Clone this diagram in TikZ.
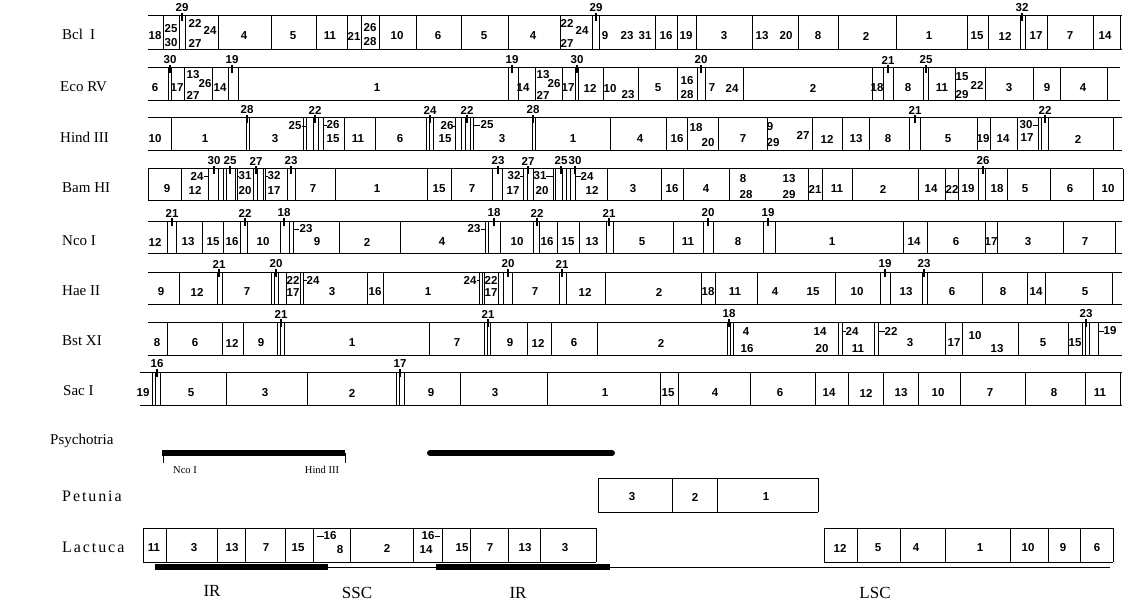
\documentclass[tikz,border=0pt]{standalone}
\usepackage{fontspec}
\setmainfont{Liberation Serif}
\newfontfamily\numfont{Liberation Sans}
\newcounter{nn}
\tikzset{
 num/.style={font=\numfont\bfseries\fontsize{11.5}{12}\selectfont, inner sep=0pt},
 rowname/.style={font=\fontsize{15}{16}\selectfont, anchor=west, inner sep=0pt},
 widename/.style={font=\fontsize{16}{17}\selectfont\addfontfeature{LetterSpace=12}, anchor=west, inner sep=0pt},
 smalltxt/.style={font=\fontsize{10.5}{11}\selectfont, inner sep=0pt},
 regtxt/.style={font=\fontsize{17}{18}\selectfont, inner sep=0pt},
 frame/.style={line width=1pt},
 vline/.style={line width=0.9pt},
 tickline/.style={line width=1.4pt},
 thickbar/.style={line width=6pt},
}
\newcommand\lb[3]{\stepcounter{nn}\node[num] (n\arabic{nn}) at (#1,#2) {#3};}
\newcommand\mids[2]{\foreach \xa/\la in {#2}{\lb{\xa}{#1}{\la}}}
\newcommand\sts[1]{\foreach \xa/\ya/\la in {#1}{\lb{\xa}{\ya}{\la}}}
\newcommand\vls[3]{\foreach \xa in {#3}{\draw[vline] (\xa,#1) -- (\xa,#2);}}
\newcommand\frm[4]{\draw[frame] (#3,#1) -- (#4,#1); \draw[frame] (#3,#2) -- (#4,#2);}
\newcommand\tks[2]{\foreach \xa/\la in {#2}{\draw[tickline] (\xa,#1-3) -- (\xa,#1+5); \lb{\xa}{#1-8}{\la}}}
\newcommand\ptrs[1]{\foreach \xa/\xb/\ya in {#1}{\draw[vline] (\xa,\ya) -- (\xb,\ya);}}
\begin{document}
\begin{tikzpicture}[x=1pt,y=-1pt]
\useasboundingbox (0,0) rectangle (1132,604);
% row names
\node[rowname] (rn1) at (62,34) {Bcl\hspace{7pt}I};
\node[rowname] (rn2) at (60,87) {Eco RV};
\node[rowname] (rn3) at (60,137) {Hind III};
\node[rowname] (rn4) at (62,188) {Bam HI};
\node[rowname] (rn5) at (62,241) {Nco I};
\node[rowname] (rn6) at (62,291) {Hae II};
\node[rowname] (rn7) at (62,341) {Bst XI};
\node[rowname] (rn8) at (63,391) {Sac I};
% Row 1 Bcl I
\frm{16}{50}{148}{1122}
\vls{16}{50}{163,179,185,218,271,316,347,361,379,416,461,508,560,592,599,655,677,696,752,798,838,896,967,988,1020,1025,1047,1093,1120}
\tks{16}{182/29,596/29,1022/32}
\mids{36}{155/18,244/4,293/5,330/11,354/21,397/10,438/6,484/5,533/4,605/9,627/23,645/31,666/16,686/19,724/3,762/13,786/20,818/8,866/2,929/1,977/15,1005/12,1036/17,1070/7,1105/14}
\sts{171/29/25,171/43/30,195/23/22,210/30/24,195/43/27,370/28/26,370/42/28,567/23/22,582/30/24,567/43/27}
% Row 2 Eco RV
\frm{68}{101}{148}{1120}
\vls{68}{101}{168,171,184,212,228,238,508,518,535,562,575,578,603,638,677,697,705,743,872,883,893,923,928,955,985,1033,1060,1107}
\tks{68}{170/30,232/19,512/19,577/30,701/20,888/21,926/25}
\mids{88}{155/6,177/17,220/14,377/1,523/14,568/17,590/12,658/5,712/7,732/24,813/2,877/18,908/8,942/11,1009/3,1047/9,1083/4}
\sts{193/75/13,205/84/26,193/95/27,543/75/13,554/84/26,543/95/27,610/89/10,628/95/23,687/81/16,687/95/28,962/77/15,977/85/22,962/95/29}
% Row 3 Hind III
\frm{118}{151}{148}{1122}
\vls{118}{151}{171,246,249,303,306,313,318,323,344,375,426,429,433,455,461,465,470,473,532,535,610,666,687,718,767,812,842,869,909,920,977,990,1017,1038,1041,1048,1113}
\tks{118}{247/28,315/22,430/24,467/22,533/28,915/21,1045/22}
\mids{139}{155/10,205/1,275/3,358/11,400/6,502/3,573/1,640/4,677/16,743/7,827/12,856/13,888/8,948/5,983/19,1003/14,1078/2}
\sts{295/126/25,333/125/26,333/139/15,447/126/26,445/139/15,487/125/25,696/128/18,708/143/20,770/127/9,773/143/29,803/135/27,1026/125/30,1027/138/17}
\ptrs{302/306/126,323/327/125,453/456/126,474/480/125,1033/1038/125}
% Row 4 Bam HI
\frm{169}{201}{148}{1123}
\vls{169}{201}{148,181,208,218,223,226,235,237,253,257,263,265,287,295,335,427,451,492,502,523,527,533,553,555,562,566,570,575,607,661,683,729,808,822,852,918,945,958,978,985,1007,1050,1093,1123}
\tks{169}{214/30,230/25,256/27,291/23,498/23,528/27,561/25,575/30,983/26}
\mids{189}{167/9,313/7,377/1,439/15,472/7,633/3,672/16,706/4,815/21,837/11,883/2,931/14,952/22,968/19,997/18,1025/5,1070/6,1108/10}
\sts{197/176/24,195/190/12,245/176/31,245/191/20,274/176/32,274/191/17,514/176/32,513/191/17,540/176/31,542/191/20,587/176/24,592/190/12,743/179/8,746/195/28,789/179/13,789/195/29}
\ptrs{204/208/176,237/239/176,265/268/176,520/523/176,546/553/176,575/581/176}
% Row 5 Nco I
\frm{221}{253}{148}{1122}
\vls{221}{253}{167,176,202,223,240,247,280,289,293,339,400,485,488,500,533,539,557,579,606,613,673,703,713,763,775,903,927,985,997,1063,1115}
\tks{221}{172/21,245/22,284/18,494/18,537/22,609/21,708/20,768/19}
\mids{242}{155/12,188/13,213/15,232/16,263/10,317/9,367/2,442/4,517/10,547/16,568/15,592/13,642/5,688/11,738/8,832/1,914/14,956/6,991/17,1028/3,1085/7}
\sts{306/229/23,474/229/23}
\ptrs{294/299/229,481/485/229}
% Row 6 Hae II
\frm{272}{304}{148}{1122}
\vls{272}{304}{179,217,222,271,274,278,286,300,303,367,383,479,482,484,498,503,512,559,566,605,701,715,757,835,880,890,922,927,982,1027,1045,1112}
\tks{272}{219/21,276/20,508/20,562/21,885/19,924/23}
\mids{292}{161/9,197/12,247/7,332/3,375/16,428/1,535/7,585/12,659/2,708/18,735/11,775/4,813/15,857/10,906/13,952/6,1003/8,1036/14,1085/5}
\sts{293/280/22,293/293/17,313/280/24,470/280/24,491/280/22,491/293/17}
\ptrs{303/306.5/280,476.5/479/280}
% Row 7 Bst XI
\frm{322}{355}{148}{1122}
\vls{322}{355}{167,222,243,277,280,284,429,484,487,490,527,551,597,727,730,733,838,842,874,878,945,962,1018,1068,1082,1085,1089,1098}
\tks{322}{281/21,488/21,729/18,1086/23}
\mids{343}{157/8,195/6,232/12,261/9,352/1,457/7,510/9,538/12,574/6,661/2,910/3,954/17,1043/5,1075/15}
\sts{746/332/4,747/349/16,820/332/14,822/349/20,852/331/24,858/349/11,891/331/22,975/336/10,997/349/13,1110/331/19}
\ptrs{842/845.5/331,878/884.5/331,1098/1103.5/331}
% Row 8 Sac I
\frm{372}{405}{140}{1122}
\vls{372}{405}{152,155,160,226,307,396,399,404,460,547,660,678,750,815,848,883,918,960,1025,1085,1120}
\tks{372}{157/16,400/17}
\mids{393}{143/19,191/5,265/3,352/2,431/9,495/3,605/1,668/15,715/4,780/6,829/14,866/12,901/13,938/10,990/7,1054/8,1100/11}
% Psychotria
\node[rowname] (psy) at (50,441) {Psychotria};
\draw[thickbar] (162,453) -- (345,453);
\draw[thickbar, line cap=round] (430,453) -- (612,453);
\draw[vline] (163,453) -- (163,463);
\draw[vline] (345,453) -- (345,463);
\node[smalltxt] (nco) at (185,470) {Nco I};
\node[smalltxt] (hind) at (322,470) {Hind III};
% Petunia
\node[widename] (pet) at (62,496) {Petunia};
\frm{478}{512}{598}{818}
\vls{478}{512}{598,672,717,818}
\mids{497}{632/3,695/2,766/1}
% Lactuca
\node[widename] (lac) at (62,547) {Lactuca};
\frm{528}{562}{143}{596}
\vls{528}{562}{143,166,217,245,285,313,350,413,442,470,508,540,596}
\mids{548}{154/11,194/3,232/13,266/7,298/15,387/2,462/15,490/7,525/13,565/3}
\sts{330/536/16,340/550/8,428/536/16,426/550/14}
\ptrs{317/323.5/536,434.5/440/536}
\frm{528}{562}{824}{1113}
\vls{528}{562}{824,857,900,945,1010,1048,1080,1113}
\mids{548}{840/12,878/5,916/4,980/1,1028/10,1063/9,1097/6}
% bottom regions
\draw[vline] (155,567) -- (1110,567);
\draw[thickbar] (155,567) -- (328,567);
\draw[thickbar] (436,567) -- (610,567);
\node[regtxt] (ir1) at (212,591) {IR};
\node[regtxt] (ssc) at (357,593) {SSC};
\node[regtxt] (ir2) at (518,593) {IR};
\node[regtxt] (lsc) at (875,593) {LSC};
\end{tikzpicture}
\end{document}
